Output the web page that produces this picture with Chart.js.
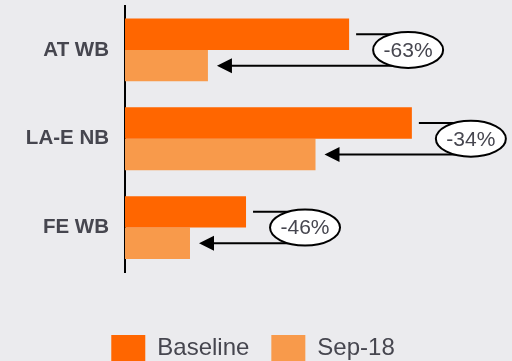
<!DOCTYPE html>
<html>
<head>
<meta charset="utf-8">
<script src="https://cdn.jsdelivr.net/npm/chart.js@4/dist/chart.umd.min.js"></script>
<style>
  html, body { margin: 0; padding: 0; background: #ebebee; overflow: hidden; }
  #wrap { width: 512px; height: 361px; overflow: hidden; }
  canvas { display: block; }
</style>
</head>
<body>
<div id="wrap"><canvas id="c" width="512" height="372"></canvas></div>
<script>
// Categories and series values
const categories = ['AT WB', 'LA-E NB', 'FE WB'];
const baseline = [100, 128, 54];
const sep18 = [37, 85, 29];
const seriesNames = ['Baseline', 'Sep-18'];

const FONT = '"Liberation Sans", Arial, Helvetica, sans-serif';
const TEXT = '#46464f';

// Bracket arrow from the baseline bar to the Sep-18 bar, with the % change in an ellipse
const changeCallouts = {
  id: 'changeCallouts',
  afterDatasetsDraw(chart) {
    const ctx = chart.ctx;
    const xs = chart.scales.x;
    const m0 = chart.getDatasetMeta(0);
    const m1 = chart.getDatasetMeta(1);
    categories.forEach((c, i) => {
      const bx = xs.getPixelForValue(baseline[i]);
      const sx = xs.getPixelForValue(sep18[i]);
      const by = m0.data[i].y;
      const sy = m1.data[i].y;
      const cx = bx + 59;
      const cy = (by + sy) / 2;
      const tip = sx + 9;
      ctx.save();
      ctx.strokeStyle = '#000';
      ctx.fillStyle = '#000';
      ctx.lineWidth = 2;
      ctx.beginPath();
      ctx.moveTo(bx + 7, by);
      ctx.lineTo(cx, by);
      ctx.stroke();
      ctx.beginPath();
      ctx.moveTo(cx, sy);
      ctx.lineTo(tip + 12, sy);
      ctx.stroke();
      ctx.beginPath();
      ctx.moveTo(tip, sy);
      ctx.lineTo(tip + 15, sy - 7.5);
      ctx.lineTo(tip + 15, sy + 7.5);
      ctx.closePath();
      ctx.fill();
      ctx.beginPath();
      ctx.ellipse(cx, cy, 35, 18, 0, 0, Math.PI * 2);
      ctx.fillStyle = '#ffffff';
      ctx.fill();
      ctx.stroke();
      const pct = Math.round((sep18[i] / baseline[i] - 1) * 100);
      ctx.fillStyle = TEXT;
      ctx.font = '21px ' + FONT;
      ctx.textAlign = 'center';
      ctx.textBaseline = 'middle';
      ctx.fillText(pct + '%', cx, cy + 1);
      ctx.restore();
    });
  }
};

new Chart(document.getElementById('c'), {
  type: 'bar',
  data: {
    labels: categories,
    datasets: [
      { label: seriesNames[0], data: baseline, backgroundColor: '#ff6600', borderWidth: 0 },
      { label: seriesNames[1], data: sep18, backgroundColor: '#f89a4b', borderWidth: 0 }
    ]
  },
  options: {
    indexAxis: 'y',
    responsive: false,
    animation: false,
    datasets: { bar: { barPercentage: 1, categoryPercentage: 0.708 } },
    layout: { padding: { top: 5.5, right: 6, left: 0, bottom: 0 } },
    scales: {
      x: {
        min: 0,
        max: 170,
        afterFit(scale) { scale.height = 41; },
        grid: { display: false, drawTicks: false },
        border: { display: false },
        ticks: { display: false }
      },
      y: {
        afterFit(scale) {
          scale.width = 125;
          scale.paddingTop = 0;
          scale.paddingBottom = 0;
        },
        grid: { display: false, drawTicks: false },
        border: { display: true, color: '#000', width: 2 },
        ticks: { color: TEXT, padding: 16, font: { family: FONT, size: 20.5, weight: 'bold' } }
      }
    },
    plugins: {
      legend: {
        position: 'bottom',
        labels: {
          boxWidth: 34,
          boxHeight: 27,
          padding: 22,
          color: TEXT,
          font: { family: FONT, size: 24 }
        }
      },
      tooltip: { enabled: false }
    }
  },
  plugins: [changeCallouts]
});
</script>
</body>
</html>
